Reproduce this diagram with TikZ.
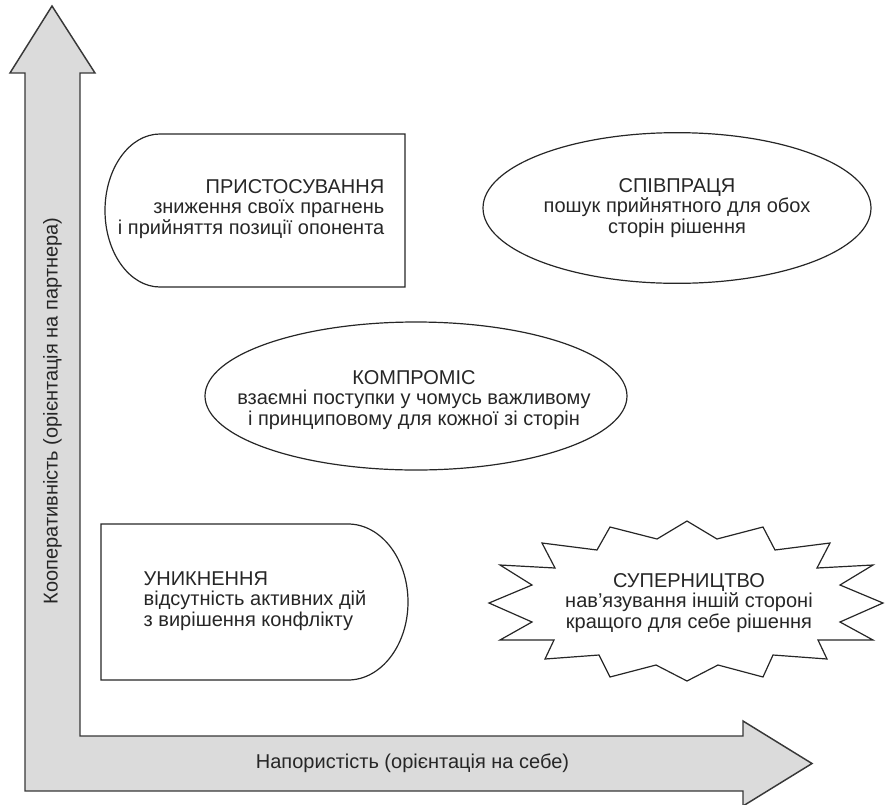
\documentclass[tikz,border=0pt]{standalone}
\usepackage{fontspec}
\setmainfont{Liberation Sans}
\usetikzlibrary{shapes.geometric}

\begin{document}
\begin{tikzpicture}[
    x=0.75pt, y=-0.75pt,
    every node/.style={font=\fontsize{15}{15.3}\selectfont, text=black!85},
    axisarrow/.style={draw=black!78, fill=black!14, line width=1.1pt, line join=miter},
    frame/.style={draw=black!85, line width=0.9pt},
    oval/.style={frame, ellipse, inner sep=0pt, minimum width=#1},
]
    \useasboundingbox (0,0) rectangle (886,804);

    % Axes
    \draw[axisarrow] (52,6) -- (95,73) -- (80,73) -- (80,736) -- (743,736) -- (743,721)
        -- (812,763.5) -- (743,806) -- (743,791) -- (25,791) -- (25,73) -- (10,73) -- cycle;
    \node[rotate=90] (ylab) at (52.5,411) {Кооперативність (орієнтація на партнера)};
    \node (xlab) at (412.5,763) {Напористість (орієнтація на себе)};

    % Accommodation
    \draw[frame] (405,134) -- (160,134) arc[start angle=270, end angle=90, x radius=55, y radius=76.5]
        -- (405,287) -- cycle;
    \node[anchor=east, align=right] (accom) at (389,209) {ПРИСТОСУВАННЯ\\зниження своїх прагнень\\і прийняття позиції опонента};

    % Collaboration
    \node[oval=291pt, minimum height=113pt] (collab) at (677,208) {};
    \node[align=center] (collabtxt) at (collab) {СПІВПРАЦЯ\\пошук прийнятного для обох\\сторін рішення};

    % Compromise
    \node[oval=316.5pt, minimum height=111pt] (compr) at (416,396) {};
    \node[align=center] (comprtxt) at (414,400) {КОМПРОМІС\\взаємні поступки у чомусь важливому\\і принциповому для кожної зі сторін};

    % Avoidance
    \draw[frame] (101,524) -- (348,524) arc[start angle=-90, end angle=90, x radius=60, y radius=78]
        -- (101,680) -- cycle;
    \node[anchor=west, align=left] (avoid) at (139,601) {УНИКНЕННЯ\\відсутність активних дій\\з вирішення конфлікту};

    % Competition
    \draw[frame] plot coordinates {(687,521) (717,539) (763,527) (775,550) (830,543) (817,568)
        (873,565) (840,585) (883,603) (840,622) (873,640) (818,640) (827,659) (773,655)
        (763,677) (718,665) (687,681) (656,665) (610,677) (599,655) (545,659) (554,640)
        (500,640) (532,622) (489,603) (532,585) (500,565) (555,568) (542,543) (597,550)
        (610,527) (657,539)} -- cycle;
    \node[align=center] (compet) at (689,603) {СУПЕРНИЦТВО\\нав’язування іншій стороні\\кращого для себе рішення};
\end{tikzpicture}
\end{document}
